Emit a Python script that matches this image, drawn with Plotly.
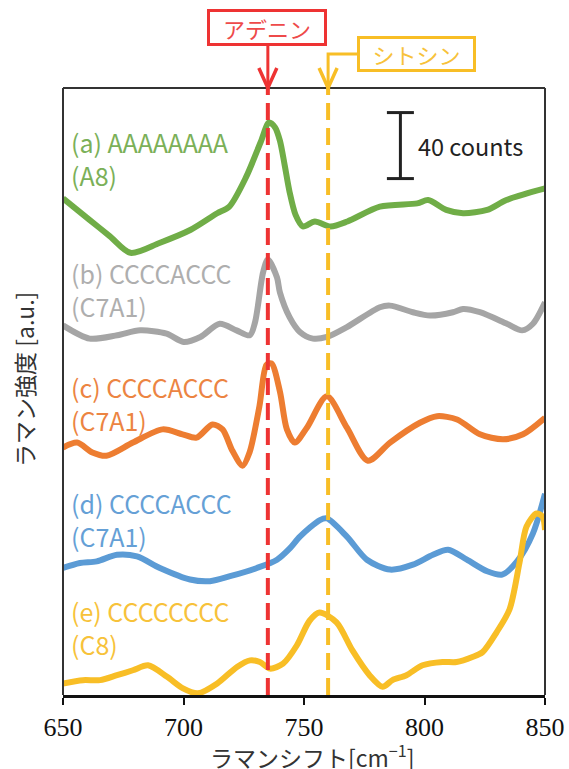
import plotly.graph_objects as go

# Raman spectra (counts, stacked with offsets) vs Raman shift [cm^-1]
a_x = [650, 661, 669.5, 678, 690, 703, 714, 719, 726, 732, 735.5, 738, 740, 742, 744, 746.5,
       749.5, 754.5, 761, 768, 781.5, 797, 801.5, 809, 816, 826, 834, 850]
a_y = [301, 288, 278, 268, 274, 282, 292, 296, 314, 335, 347, 344, 336, 321, 305, 291,
       284, 287, 284, 287, 296, 298, 300, 294, 292, 294, 300, 307]

b_x = [650, 661, 672.5, 682, 693, 700, 707, 715, 722, 727.5, 729.7, 733, 735, 738.8, 740, 744,
       748.3, 753.7, 759.5, 767.8, 781.5, 785.7, 795.2, 802.3, 811.8, 816, 823, 834.2, 840.5, 845, 850]
b_y = [224, 216, 218, 221, 219, 214, 217, 225, 221, 218, 226, 256, 264, 253, 244, 229,
       220, 216, 217, 223, 235, 236, 232, 230, 232, 234, 232, 225, 221, 225, 238]

c_x = [650, 655.8, 662.2, 668, 679, 691.3, 699.6, 705.4, 712, 716.2, 720.3, 724.5, 727.4, 731.5,
       734.4, 736.5, 740, 742.9, 746.2, 751.2, 759.5, 767.8, 776.5, 785.7, 798.1, 805.2, 813.5,
       823, 832.6, 840.9, 850]
c_y = [150, 153, 147, 145, 153, 161, 158, 156, 164, 161, 148, 139, 147, 175,
       200, 201, 184, 161, 153, 162, 181, 162, 142, 153, 165, 169, 167,
       158, 155, 158, 168]

d_x = [650, 657, 664, 672.4, 680.7, 690.2, 702.7, 711, 719.3, 730.5, 738.8, 744.2, 748.3, 756.6,
       759.5, 767.8, 776.1, 785.7, 795.2, 803.5, 809.8, 817.6, 826, 832.2, 838.4, 845, 850]
d_y = [77, 80, 81, 85, 84, 77, 70, 69, 72, 77, 82, 89, 96, 106,
       107, 96, 82, 76, 79, 85, 88, 82, 75, 73, 81, 98, 122]

e_x = [650, 658.3, 665.4, 672.4, 679, 685.3, 693.2, 699.8, 706, 714, 722.2, 727.6, 731.7, 735.9,
       741.3, 747, 752.3, 756.4, 763.5, 770.1, 777.2, 782.6, 786.7, 792.5, 799.2, 807.5, 813.3,
       819.9, 824.1, 829.9, 835.3, 839.4, 842.3, 846.5, 849, 850]
e_y = [7, 9, 9, 12, 15, 18, 11, 4, 1, 7, 17, 21, 20, 16,
       19, 30, 45, 50, 44, 27, 12, 5, 9, 12, 18, 20, 20,
       23, 26, 38, 52, 80, 102, 110, 108, 100]

series = [
    ("(a) AAAAAAAA", "(A8)", a_x, a_y, "#70AD47", "#7BB058"),
    ("(b) CCCCACCC", "(C7A1)", b_x, b_y, "#A5A5A5", "#AEAEAE"),
    ("(c) CCCCACCC", "(C7A1)", c_x, c_y, "#ED7D31", "#EC8442"),
    ("(d) CCCCACCC", "(C7A1)", d_x, d_y, "#5B9BD5", "#65A0D6"),
    ("(e) CCCCCCCC", "(C8)", e_x, e_y, "#F8BE26", "#F7C23A"),
]

x_ticks = [650, 700, 750, 800, 850]
adenine_shift = 735
cytosine_shift = 760
scale_counts = 40
scale_bar_x = 790
scale_bar_base = 313

X_RANGE = [650, 850]
Y_RANGE = [0, 367.9]

W, H = 569, 769
L, R, T, B = 63, 24, 88, 74
PW, PH = W - L - R, H - T - B

RED = "#EE3333"
YEL = "#F8BE26"
JP = "Noto Sans CJK JP"


def px_x(px):
    """pixel column -> data x"""
    return X_RANGE[0] + (px - L) / PW * (X_RANGE[1] - X_RANGE[0])


def py_paper(py):
    """pixel row -> paper y"""
    return (H - B - py) / PH


fig = go.Figure()
for name, sub, xs, ys, col, tcol in series:
    fig.add_trace(go.Scatter(x=xs, y=ys, mode="lines", name=name,
                             line=dict(color=col, width=6, shape="spline", smoothing=0.8),
                             showlegend=False))

shapes = []
# frame (left, top, right)
for x0, y0, x1, y1 in [(0, 0, 0, 1), (0, 1, 1, 1), (1, 0, 1, 1)]:
    shapes.append(dict(type="line", xref="paper", yref="paper", x0=x0, y0=y0, x1=x1, y1=y1,
                       line=dict(color="#333333", width=2)))

# marker lines for adenine / cytosine bands
for xv, col in [(adenine_shift, RED), (cytosine_shift, YEL)]:
    shapes.append(dict(type="line", xref="x", yref="paper", x0=xv, x1=xv, y0=0, y1=1,
                       line=dict(color=col, width=4, dash="17px,8px")))

# arrows from the label boxes down to the frame
hw = 9 / PW * (X_RANGE[1] - X_RANGE[0])
ah = 20 / PH
shapes.append(dict(type="line", xref="x", yref="paper", x0=adenine_shift, x1=adenine_shift,
                   y0=1.0, y1=py_paper(46), line=dict(color=RED, width=3)))
shapes.append(dict(type="path", xref="x", yref="paper",
                   path=f"M {adenine_shift - hw},{1 + ah} L {adenine_shift},{1.0} L {adenine_shift + hw},{1 + ah}",
                   line=dict(color=RED, width=3.5)))
shapes.append(dict(type="path", xref="x", yref="paper",
                   path=f"M {px_x(357)},{py_paper(54)} L {cytosine_shift},{py_paper(54)} L {cytosine_shift},{1.0}",
                   line=dict(color=YEL, width=3)))
shapes.append(dict(type="path", xref="x", yref="paper",
                   path=f"M {cytosine_shift - hw},{1 + ah} L {cytosine_shift},{1.0} L {cytosine_shift + hw},{1 + ah}",
                   line=dict(color=YEL, width=3.5)))

# 40-count scale bar
cap = 5.6
top = scale_bar_base + scale_counts
shapes += [
    dict(type="line", xref="x", yref="y", x0=scale_bar_x, x1=scale_bar_x, y0=scale_bar_base, y1=top,
         line=dict(color="#222222", width=3)),
    dict(type="line", xref="x", yref="y", x0=scale_bar_x - cap, x1=scale_bar_x + cap,
         y0=top, y1=top, line=dict(color="#222222", width=3)),
    dict(type="line", xref="x", yref="y", x0=scale_bar_x - cap, x1=scale_bar_x + cap,
         y0=scale_bar_base, y1=scale_bar_base, line=dict(color="#222222", width=3)),
]

annotations = []
label_centres = [158.5, 289, 403.5, 519.5, 627]
for (name, sub, xs, ys, col, tcol), row in zip(series, label_centres):
    annotations.append(dict(text=f"{name}<br>{sub}", xref="paper", yref="paper",
                            x=(69 - L) / PW, y=py_paper(row), align="left",
                            xanchor="left", yanchor="middle", showarrow=False,
                            font=dict(family=JP, size=25, color=tcol)))

annotations.append(dict(text=f"{scale_counts} counts", xref="x", yref="y", x=px_x(416),
                        y=scale_bar_base + scale_counts / 2, xanchor="left", yanchor="middle",
                        showarrow=False, font=dict(family=JP, size=23.5, color="#222222")))

annotations.append(dict(text="アデニン", xref="x", yref="paper", x=px_x(267), y=py_paper(28),
                        xanchor="center", yanchor="middle", showarrow=False,
                        width=112, height=29, bgcolor="white", bordercolor=RED, borderwidth=3,
                        font=dict(family=JP, size=22, color="#EE4A4A")))
annotations.append(dict(text="シトシン", xref="x", yref="paper", x=px_x(416.5), y=py_paper(54),
                        xanchor="center", yanchor="middle", showarrow=False,
                        width=111, height=28, bgcolor="white", bordercolor=YEL, borderwidth=3,
                        font=dict(family=JP, size=22, color="#F7C23A")))

annotations.append(dict(text="ラマンシフト[cm<sup>−1</sup>]", xref="paper", yref="paper",
                        x=(312 - L) / PW, y=py_paper(756), xanchor="center", yanchor="middle",
                        showarrow=False, font=dict(family=JP, size=23, color="#333333")))
annotations.append(dict(text="ラマン強度 [a.u.]", xref="paper", yref="paper",
                        x=(24 - L) / PW, y=py_paper(380), xanchor="center", yanchor="middle",
                        textangle=-90, showarrow=False,
                        font=dict(family=JP, size=23, color="#333333")))

fig.update_layout(
    width=W, height=H,
    margin=dict(l=L, r=R, t=T, b=B, autoexpand=False),
    plot_bgcolor="white", paper_bgcolor="white",
    shapes=shapes, annotations=annotations,
    xaxis=dict(range=X_RANGE, tickvals=x_ticks, ticktext=[str(v) for v in x_ticks],
               automargin=False,
               showgrid=False, zeroline=False, showline=True, linecolor="#111111", linewidth=3,
               ticks="outside", ticklen=7, tickwidth=2, tickcolor="#111111",
               tickfont=dict(family="Liberation Serif", size=26, color="#111111")),
    yaxis=dict(range=Y_RANGE, showgrid=False, zeroline=False, showline=False, automargin=False,
               showticklabels=False, ticks=""),
)

fig.write_html("out.html")
